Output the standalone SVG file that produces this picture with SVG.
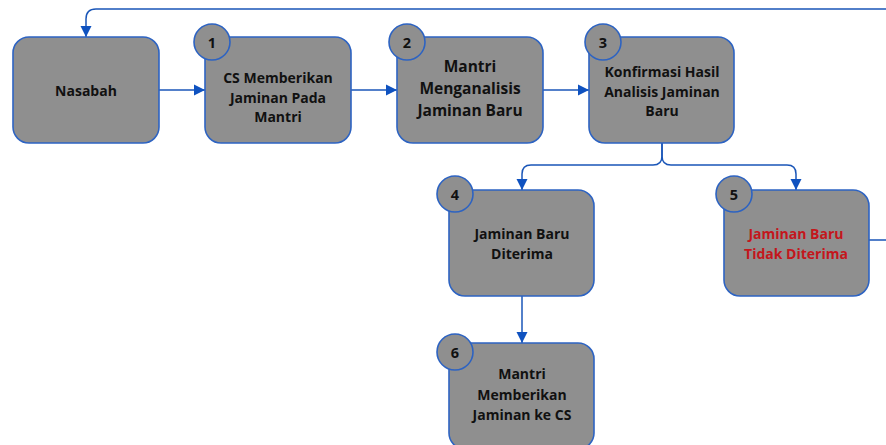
<svg xmlns="http://www.w3.org/2000/svg" width="886" height="445" viewBox="0 0 886 445">
<defs>
<marker id="arr" viewBox="0 0 10 10" refX="10" refY="5" markerWidth="11" markerHeight="12" markerUnits="userSpaceOnUse" orient="auto">
<path d="M0,0 L10,5 L0,10 Z" fill="#0f52c0"/>
</marker>
</defs>
<style>
.box{fill:#8f8f8f;stroke:#2d63c2;stroke-width:1.6}
.num{fill:#8f8f8f;stroke:#2d63c2;stroke-width:1.6}
.t{font-family:"Open Sans","Liberation Sans",sans-serif;font-weight:bold;font-size:14px;fill:#111;text-anchor:middle;dominant-baseline:central}
.big{font-size:15.5px}
.red{fill:#c4161c}
.n{font-family:"Open Sans","Liberation Sans",sans-serif;font-weight:bold;font-size:14.5px;fill:#111;text-anchor:middle;dominant-baseline:central}
.c{fill:none;stroke:#1a56b8;stroke-width:1.5}
</style>
<rect width="886" height="445" fill="#fff"/>
<g id="connectors">
<path class="c" d="M159 90 H205" marker-end="url(#arr)"/>
<path class="c" d="M351 90 H397" marker-end="url(#arr)"/>
<path class="c" d="M543 90 H589" marker-end="url(#arr)"/>
<path class="c" d="M662 143 V156 Q662 165 653 165 H531 Q522 165 522 174 V190" marker-end="url(#arr)"/>
<path class="c" d="M662 143 V156 Q662 165 671 165 H787 Q796 165 796 174 V190" marker-end="url(#arr)"/>
<path class="c" d="M522 296 V343" marker-end="url(#arr)"/>
<path class="c" d="M869 240 H896 V19 Q896 9 886 9 H96 Q86 9 86 19 V37" marker-end="url(#arr)"/>
</g>
<g id="nasabah">
<rect class="box" x="13" y="37" width="146" height="106" rx="16"/>
<text class="t" x="86" y="90">Nasabah</text>
</g>
<g id="node1">
<rect class="box" x="205" y="37" width="146" height="106" rx="16"/>
<circle class="num" cx="212" cy="42" r="18"/>
<text class="n" x="212" y="42">1</text>
<text class="t" x="278" y="77">CS Memberikan</text>
<text class="t" x="278" y="97">Jaminan Pada</text>
<text class="t" x="278" y="116">Mantri</text>
</g>
<g id="node2">
<rect class="box" x="397" y="37" width="146" height="106" rx="16"/>
<circle class="num" cx="407" cy="42" r="18"/>
<text class="n" x="407" y="42">2</text>
<text class="t big" x="470" y="66">Mantri</text>
<text class="t big" x="470" y="88">Menganalisis</text>
<text class="t big" x="470" y="110">Jaminan Baru</text>
</g>
<g id="node3">
<rect class="box" x="589" y="37" width="145" height="106" rx="16"/>
<circle class="num" cx="603" cy="42" r="18"/>
<text class="n" x="603" y="42">3</text>
<text class="t" x="662" y="71">Konfirmasi Hasil</text>
<text class="t" x="662" y="91">Analisis Jaminan</text>
<text class="t" x="662" y="110">Baru</text>
</g>
<g id="node4">
<rect class="box" x="449" y="190" width="145" height="106" rx="16"/>
<circle class="num" cx="455" cy="194" r="18"/>
<text class="n" x="455" y="194">4</text>
<text class="t" x="522" y="233">Jaminan Baru</text>
<text class="t" x="522" y="253">Diterima</text>
</g>
<g id="node5">
<rect class="box" x="724" y="190" width="145" height="106" rx="16"/>
<circle class="num" cx="734" cy="194" r="18"/>
<text class="n" x="734" y="194">5</text>
<text class="t red" x="796" y="233">Jaminan Baru</text>
<text class="t red" x="796" y="253">Tidak Diterima</text>
</g>
<g id="node6">
<rect class="box" x="449" y="343" width="145" height="106" rx="16"/>
<circle class="num" cx="455" cy="352" r="18"/>
<text class="n" x="455" y="352">6</text>
<text class="t" x="522" y="373">Mantri</text>
<text class="t" x="522" y="394">Memberikan</text>
<text class="t" x="522" y="414">Jaminan ke CS</text>
</g>
</svg>
